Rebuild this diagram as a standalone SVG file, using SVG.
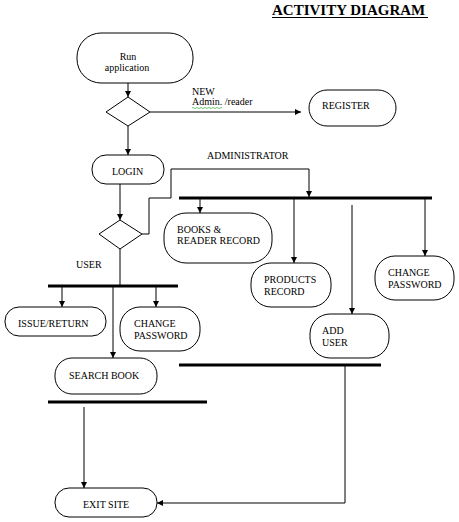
<svg xmlns="http://www.w3.org/2000/svg" width="459" height="522" viewBox="0 0 459 522">
<defs>
<style>
.n{fill:#fff;stroke:#000;stroke-width:1}
.t{font-family:"Liberation Serif","Times New Roman",serif;font-size:10px;fill:#000}
.c{fill:none;stroke:#000;stroke-width:1}
.bar{stroke:#000;stroke-width:3}
</style>
<marker id="ah" viewBox="0 0 10 10" refX="10" refY="5" markerWidth="6" markerHeight="6" markerUnits="userSpaceOnUse" orient="auto"><path d="M0,0 L10,5 L0,10 Z" fill="#000"/></marker>
</defs>
<rect width="459" height="522" fill="#fff"/>
<g id="title">
<text x="272" y="15" font-family="Liberation Serif,'Times New Roman',serif" font-size="15" font-weight="bold">ACTIVITY DIAGRAM</text>
<line x1="272" y1="17.5" x2="428" y2="17.5" stroke="#000" stroke-width="1"/>
</g>
<g id="connectors">
<line class="c" x1="128" y1="83" x2="128" y2="97" marker-end="url(#ah)"/>
<line class="c" x1="150" y1="112" x2="301" y2="112" marker-end="url(#ah)"/>
<line class="c" x1="128" y1="126" x2="128" y2="155" marker-end="url(#ah)"/>
<line class="c" x1="120" y1="184" x2="120" y2="220" marker-end="url(#ah)"/>
<polyline class="c" points="142,234 149,234 149,198 171,198 171,169 309,169 309,197" marker-end="url(#ah)"/>
<line class="bar" x1="179" y1="198" x2="432" y2="198"/>
<line class="c" x1="200" y1="198" x2="200" y2="213" marker-end="url(#ah)"/>
<line class="c" x1="294" y1="198" x2="294" y2="263" marker-end="url(#ah)"/>
<line class="c" x1="352" y1="205" x2="352" y2="314" marker-end="url(#ah)"/>
<line class="c" x1="425" y1="198" x2="425" y2="256" marker-end="url(#ah)"/>
<line class="bar" x1="179" y1="365" x2="381" y2="365"/>
<polyline class="c" points="345,365 345,503 157,503" marker-end="url(#ah)"/>
<line class="c" x1="120" y1="249" x2="120" y2="286"/>
<line class="bar" x1="48" y1="286" x2="178" y2="286"/>
<line class="c" x1="62" y1="286" x2="62" y2="307" marker-end="url(#ah)"/>
<line class="c" x1="156" y1="286" x2="156" y2="307" marker-end="url(#ah)"/>
<line class="c" x1="113" y1="286" x2="113" y2="358" marker-end="url(#ah)"/>
<line class="bar" x1="48" y1="402" x2="207" y2="402"/>
<line class="c" x1="84" y1="407" x2="84" y2="488" marker-end="url(#ah)"/>
<text class="t" x="192" y="95">NEW</text>
<text class="t" x="192" y="105">Admin. /reader</text>
<path d="M192,108 q1,-1 2,0 t2,0 t2,0 t2,0 t2,0 t2,0 t2,0 t2,0 t2,0 t2,0 t2,0 t2,0 t2,0 t2,0 t2,0" fill="none" stroke="#3a3" stroke-width="0.7"/>
<text class="t" x="207" y="159">ADMINISTRATOR</text>
<text class="t" x="76" y="268">USER</text>
</g>
<g id="run">
<rect class="n" x="77" y="33" width="116" height="50" rx="24"/>
<text class="t" x="128" y="60" text-anchor="middle">Run</text>
<text class="t" x="127" y="71" text-anchor="middle">application</text>
</g>
<g id="decision1"><polygon class="n" points="128,97 150,112 128,126 106,112"/></g>
<g id="register">
<rect class="n" x="309" y="90" width="87" height="36" rx="18"/>
<text class="t" x="322" y="109">REGISTER</text>
</g>
<g id="login">
<rect class="n" x="92" y="155" width="72" height="29" rx="14"/>
<text class="t" x="112" y="175">LOGIN</text>
</g>
<g id="decision2"><polygon class="n" points="120,220 142,234 120,249 99,234"/></g>
<g id="books">
<rect class="n" x="164" y="213" width="108" height="50" rx="22"/>
<text class="t" x="177" y="233">BOOKS &amp;</text>
<text class="t" x="177" y="244">READER RECORD</text>
</g>
<g id="products">
<rect class="n" x="251" y="263" width="80" height="44" rx="20"/>
<text class="t" x="264" y="283">PRODUCTS</text>
<text class="t" x="264" y="295">RECORD</text>
</g>
<g id="adminpw">
<rect class="n" x="375" y="256" width="79" height="44" rx="20"/>
<text class="t" x="388" y="276">CHANGE</text>
<text class="t" x="388" y="288">PASSWORD</text>
</g>
<g id="adduser">
<rect class="n" x="310" y="314" width="79" height="44" rx="20"/>
<text class="t" x="322" y="334">ADD</text>
<text class="t" x="322" y="346">USER</text>
</g>
<g id="issue">
<rect class="n" x="5" y="307" width="101" height="29" rx="14"/>
<text class="t" x="18" y="327">ISSUE/RETURN</text>
</g>
<g id="userpw">
<rect class="n" x="120" y="307" width="80" height="44" rx="20"/>
<text class="t" x="134" y="327">CHANGE</text>
<text class="t" x="134" y="339">PASSWORD</text>
</g>
<g id="search">
<rect class="n" x="55" y="358" width="102" height="36" rx="17"/>
<text class="t" x="69" y="379">SEARCH BOOK</text>
</g>
<g id="exit">
<rect class="n" x="55" y="488" width="102" height="29" rx="14"/>
<text class="t" x="83" y="508">EXIT SITE</text>
</g>
</svg>
